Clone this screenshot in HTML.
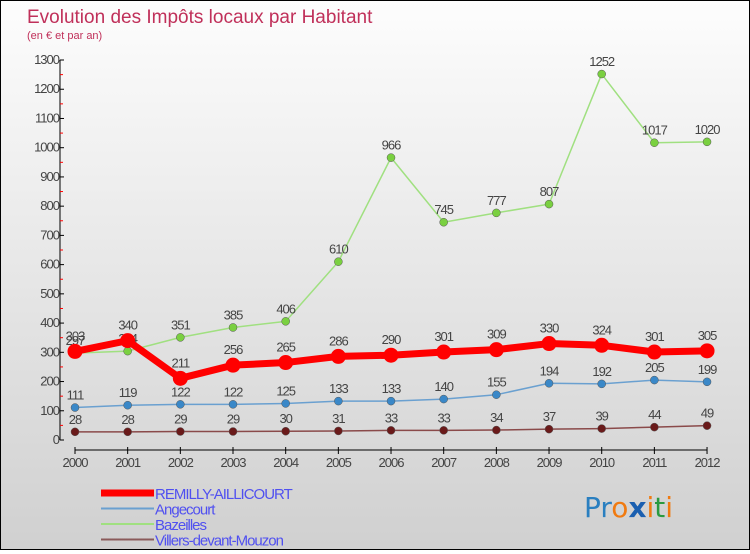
<!DOCTYPE html>
<html><head><meta charset="utf-8"><style>
html,body{margin:0;padding:0}
body{width:750px;height:550px;overflow:hidden;font-family:"Liberation Sans",sans-serif}
#c{position:absolute;left:0;top:0;width:748px;height:548px;border:1px solid #000;background:linear-gradient(#fdfdfd,#d0d0d0)}
</style></head><body>
<div id="c">
<svg id="svg" width="748" height="548" xmlns="http://www.w3.org/2000/svg">
<text x="26" y="22" font-size="19" fill="#c0305a">Evolution des Impôts locaux par Habitant</text>
<text x="26" y="38" font-size="11" fill="#c0305a">(en € et par an)</text>
<g id="axes"></g><g id="series"></g><g id="legend"></g>
<text x="583" y="516" font-size="28" font-family="DejaVu Sans,sans-serif"><tspan fill="#2a7fc0">Pr</tspan><tspan fill="#f07a10">o</tspan><tspan fill="#1a5fb0" font-weight="bold">x</tspan><tspan fill="#f07a10">i</tspan><tspan fill="#2a9a40">t</tspan><tspan fill="#f07a10">i</tspan></text>
</svg></div>
<script>
const years=[2000,2001,2002,2003,2004,2005,2006,2007,2008,2009,2010,2011,2012];
const yTicks=[0,100,200,300,400,500,600,700,800,900,1000,1100,1200,1300];
const remilly=[303,340,211,256,265,286,290,301,309,330,324,301,305];
const angecourt=[111,119,122,122,125,133,133,140,155,194,192,205,199];
const bazeilles=[297,304,351,385,406,610,966,745,777,807,1252,1017,1020];
const villers=[28,28,29,29,30,31,33,33,34,37,39,44,49];
const names=["REMILLY-AILLICOURT","Angecourt","Bazeilles","Villers-devant-Mouzon"];
const NS="http://www.w3.org/2000/svg";
const xS=i=>74+i*52.67, yS=v=>439-v*0.2923;
function mk(t,a,p){const e=document.createElementNS(NS,t);for(const k in a)e.setAttribute(k,a[k]);p.appendChild(e);return e;}
const ax=document.getElementById('axes');
let yl=mk('line',{x1:59,y1:yS(1300),x2:59,y2:yS(0),stroke:'#000'},ax);


yTicks.forEach(v=>{
 mk('line',{x1:59,x2:63,y1:yS(v),y2:yS(v),stroke:'#000'},ax);
 if(v<1300)mk('line',{x1:59,x2:62,y1:yS(v+50),y2:yS(v+50),stroke:'#f00'},ax);
 const t=mk('text',{x:58,y:yS(v)+4,'text-anchor':'end','font-size':13,fill:'#444','letter-spacing':'-1'},ax);
 t.textContent=v;
 
 
});
let xl=mk('line',{x1:xS(0),y1:449,x2:xS(12),y2:449,stroke:'#000'},ax);


years.forEach((y,i)=>{
 mk('line',{x1:xS(i),x2:xS(i),y1:446,y2:453,stroke:'#000'},ax);
 const t=mk('text',{x:xS(i),y:466,'text-anchor':'middle','font-size':13,fill:'#444','letter-spacing':'-1'},ax);
 t.textContent=y;
 
 
});
const sg=document.getElementById('series');
const defs=[[villers,'#8a4a4a','#6a1a1a',1.5,4,'villers'],[angecourt,'#6aa0d0','#3a88c8',1.5,4,'angecourt'],[bazeilles,'#a0e080','#7ad040',1.5,4,'bazeilles'],[remilly,'#f00','#f00',7,7.5,'remilly']];
defs.forEach(([d,lc,mc,w,r,n])=>{
 const pl=mk('polyline',{points:d.map((v,i)=>xS(i)+','+yS(v)).join(' '),fill:'none',stroke:lc,'stroke-width':w,'stroke-linejoin':'round'},sg);
 
 
 d.forEach((v,i)=>{
  const c=mk('circle',{cx:xS(i),cy:yS(v),r:r,fill:mc,stroke:n=='remilly'?'#d00':'#555','stroke-width':n=='remilly'?0:0.5},sg);
  
  
  const t=mk('text',{x:xS(i),y:yS(v)-(n=='remilly'?11:8),'text-anchor':'middle','font-size':13,fill:'#444','letter-spacing':'-1'},sg);
  t.textContent=v;
  
  
 });
});
const lg=document.getElementById('legend');
const lc=['#f00','#6aa0d0','#a0e080','#8a5a5a'],lw=[7,2,2,2];
names.forEach((nm,i)=>{
 const y=492+i*15.5;
 mk('line',{x1:100,x2:153,y1:y,y2:y,stroke:lc[i],'stroke-width':lw[i]},lg);
 const t=mk('text',{x:154,y:y+6,'font-size':15,fill:'#5050f0','letter-spacing':'-1'},lg);
 t.textContent=nm;
 
 
});
</script>
</body></html>
